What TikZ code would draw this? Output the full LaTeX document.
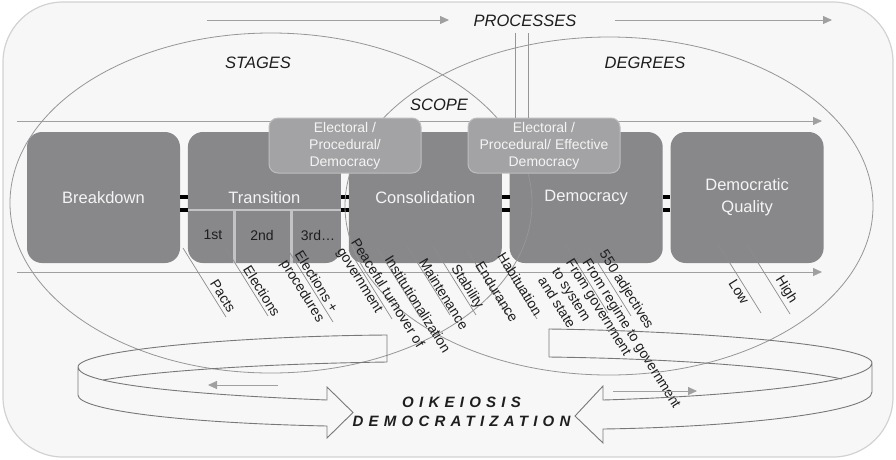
\documentclass[tikz,border=0pt]{standalone}
\usepackage{fontspec}
\setmainfont{Liberation Sans}
\newfontfamily\trackfont[LetterSpace=35]{Liberation Sans}
\usetikzlibrary{arrows.meta,positioning,calc}
\definecolor{bgfill}{RGB}{247,247,247}
\definecolor{framegray}{RGB}{210,210,210}
\definecolor{boxgray}{RGB}{136,136,139}
\definecolor{boxtext}{RGB}{244,244,244}
\definecolor{scopefill}{RGB}{163,163,165}
\definecolor{scopeline}{RGB}{190,190,192}
\definecolor{labeltext}{RGB}{30,30,30}
\definecolor{ringgray}{RGB}{150,150,150}
\definecolor{flowgray}{RGB}{160,160,160}
\definecolor{hatchgray}{RGB}{140,140,140}
\definecolor{splitgray}{RGB}{195,195,197}
\definecolor{bandgray}{RGB}{120,120,120}

\begin{document}
\begin{tikzpicture}[x=1pt,y=-1pt,
  stage/.style={fill=boxgray, rounded corners=15pt, minimum width=153pt,
    minimum height=131pt, inner sep=0pt, text=boxtext, align=center,
    font=\fontsize{16.5}{22}\selectfont},
  scopebox/.style={draw=scopeline, line width=1pt, fill=scopefill,
    rounded corners=9pt, minimum width=152pt, minimum height=55pt,
    inner sep=0pt, text=boxtext, align=center, font=\fontsize{14}{17}\selectfont},
  sub/.style={text=labeltext, inner sep=0pt, font=\fontsize{14}{17}\selectfont},
  lbl/.style={text=labeltext, rotate=-58, align=left, inner sep=0pt,
    font=\fontsize{14}{16.5}\selectfont},
  head/.style={text=labeltext, inner sep=0pt, font=\fontsize{16.5}{20}\selectfont\itshape},
  spaced/.style={text=labeltext, inner sep=0pt,
    font=\fontsize{15}{18}\trackfont\bfseries\itshape},
  ring/.style={draw=ringgray, line width=0.8pt},
  flow/.style={draw=flowgray, line width=0.9pt, -{Triangle[length=9pt,width=8pt]}},
  hatchln/.style={draw=hatchgray, line width=0.7pt},
  bar/.style={draw=black, line width=4pt},
  split/.style={draw=splitgray, line width=2.5pt},
  band/.style={draw=bandgray, line width=0.9pt}]
\useasboundingbox (0,0) rectangle (896,459);
\draw[draw=framegray, fill=bgfill, line width=1.2pt, rounded corners=60pt] (3,2) rectangle (893,457);

\node[head] (proc) at (525,21) {PROCESSES};
\draw[flow] (207,20) -- (449,20);
\draw[flow] (615,20) -- (832,20);
\draw[flow] (17,121) -- (822,121);
\draw[flow] (17,272) -- (822,272);

\node[stage] (brk) at (103.5,197.5) {Breakdown};
\node[stage, right=7.5pt of brk] (trn) {Transition};
\node[stage, right=7.5pt of trn] (con) {Consolidation};
\node[stage, right=7.5pt of con] (dem) {Democracy};
\node[stage, right=7.5pt of dem] (dq) {Democratic\\Quality};
\foreach \a/\b in {brk/trn, trn/con, con/dem, dem/dq}{
  \draw[bar] ($(\a.east)+(0,-0.5)$) -- ($(\b.west)+(0,-0.5)$);
  \draw[bar] ($(\a.east)+(0,12.5)$) -- ($(\b.west)+(0,12.5)$);}

\draw[split] ($(trn.west)+(0,12.5)$) -- ($(trn.east)+(0,12.5)$);
\draw[split] ($(trn.west)+(47,12.5)$) -- ($(trn.south west)+(47,0)$);
\draw[split] ($(trn.west)+(104,12.5)$) -- ($(trn.south west)+(104,0)$);
\node[sub] (s1) at (213,235) {1st};
\node[sub] (s2) at (262,235) {2nd};
\node[sub] (s3) at (318,235) {3rd…};

\draw[ring] (271,203) ellipse [x radius=261, y radius=170];
\draw[ring] (609,206) ellipse [x radius=264, y radius=169];

\foreach \px/\py in {183/248, 225/247, 290/253, 349/250, 377/248, 407/246,
  433/246, 467/250, 494/250, 565/244, 588/247, 718/244, 747/245}{
  \draw[hatchln] (\px,\py) -- ++(43,69);}

\node[scopebox] (elA) at (345,145.5) {Electoral /\\Procedural/\\Democracy};
\node[scopebox] (elB) at (544,145.5) {Electoral /\\Procedural/ Effective\\Democracy};
\draw[ring] (515,33) -- (515,0 |- elB.north);
\draw[ring] (528,33) -- (528,0 |- elB.north);

\node[head] (stg) at (258,63) {STAGES};
\node[head] (deg) at (645,63) {DEGREES};
\node[head] (scp) at (439,105) {SCOPE};

\foreach \px/\py/\t [count=\i] in {223/296/Pacts, 262/291/Elections,
  309/287/{Elections +\\procedures}, 380/298/{Peaceful turnover of\\government},
  418/304/Institutionalization, 444/294/Maintenance, 467/287/Stability,
  497/292/Endurance, 520/284/Habituation,
  585/316/{From government\\to system\\and state},
  631/334/{From regime to government}, 626/290/{550 adjectives},
  739/292/Low, 786/290/High}{
  \node[lbl] (lab\i) at (\px,\py) {\t};}

\draw[band] (387,362) -- (387,335) .. controls (240,336) and (78,350) .. (78,367)
  .. controls (78,385) and (200,395) .. (327,400) -- (327,387) -- (353,412.5)
  -- (327,438) -- (327,426) .. controls (180,423) and (78,410) .. (78,395) -- (78,367);
\draw[band] (387,362) .. controls (250,364) and (150,372) .. (103,380);
\draw[band] (549,357) -- (549,329) .. controls (700,331) and (872,345) .. (872,363)
  .. controls (872,382) and (740,396) .. (603,400) -- (603,386) -- (575,416)
  -- (603,443) -- (603,429) .. controls (740,427) and (872,412) .. (872,392) -- (872,363);
\draw[band] (549,357) .. controls (700,359) and (800,370) .. (842,379);
\draw[flow] (278,385) -- (208,385);
\draw[flow] (613,391) -- (697,391);

\node[spaced] (oik) at (461.5,402) {OIKEIOSIS};
\node[spaced] (dmz) at (461.5,421) {DEMOCRATIZATION};
\end{tikzpicture}
\end{document}
